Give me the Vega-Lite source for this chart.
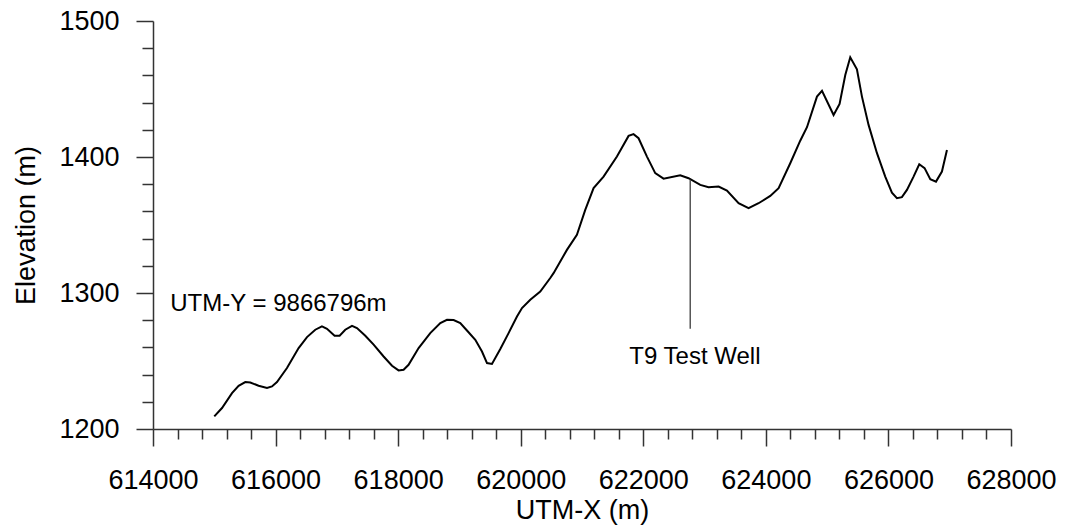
{
  "$schema": "https://vega.github.io/schema/vega-lite/v6.json",
  "width": 858,
  "height": 408,
  "autosize": {"type": "none"},
  "padding": {"left": 153, "top": 21, "right": 57, "bottom": 102},
  "background": "white",
  "config": {
    "view": {"stroke": null},
    "font": "Liberation Sans",
    "axis": {
      "grid": false,
      "domainColor": "#333333",
      "domainWidth": 1.5,
      "tickColor": "#333333",
      "tickWidth": 1.5,
      "labelColor": "black",
      "labelFont": "Liberation Sans",
      "labelFontSize": 27,
      "titleFont": "Liberation Sans",
      "titleFontSize": 27,
      "titleFontWeight": "normal",
      "titleColor": "black"
    }
  },
  "datasets": {
    "profile": [
      {"x": 615000, "elev": 1209.3},
      {"x": 615126, "elev": 1215.4},
      {"x": 615289, "elev": 1226.4},
      {"x": 615397, "elev": 1231.8},
      {"x": 615506, "elev": 1234.5},
      {"x": 615588, "elev": 1234.2},
      {"x": 615723, "elev": 1231.8},
      {"x": 615860, "elev": 1230.1},
      {"x": 615941, "elev": 1231.3},
      {"x": 616023, "elev": 1234.5},
      {"x": 616186, "elev": 1244.8},
      {"x": 616376, "elev": 1259.5},
      {"x": 616513, "elev": 1267.6},
      {"x": 616648, "elev": 1273.0},
      {"x": 616757, "elev": 1275.4},
      {"x": 616839, "elev": 1273.7},
      {"x": 616963, "elev": 1268.6},
      {"x": 617045, "elev": 1268.6},
      {"x": 617137, "elev": 1273.0},
      {"x": 617247, "elev": 1275.9},
      {"x": 617328, "elev": 1274.2},
      {"x": 617464, "elev": 1268.6},
      {"x": 617600, "elev": 1262.0},
      {"x": 617763, "elev": 1253.3},
      {"x": 617900, "elev": 1246.5},
      {"x": 618007, "elev": 1243.1},
      {"x": 618089, "elev": 1243.6},
      {"x": 618170, "elev": 1247.2},
      {"x": 618334, "elev": 1259.5},
      {"x": 618524, "elev": 1270.5},
      {"x": 618688, "elev": 1277.9},
      {"x": 618797, "elev": 1280.3},
      {"x": 618905, "elev": 1280.1},
      {"x": 619014, "elev": 1277.9},
      {"x": 619123, "elev": 1272.4},
      {"x": 619259, "elev": 1265.6},
      {"x": 619368, "elev": 1257.0},
      {"x": 619450, "elev": 1248.5},
      {"x": 619531, "elev": 1247.8},
      {"x": 619667, "elev": 1258.8},
      {"x": 619802, "elev": 1270.5},
      {"x": 619939, "elev": 1282.7},
      {"x": 620021, "elev": 1288.9},
      {"x": 620156, "elev": 1295.0},
      {"x": 620319, "elev": 1301.1},
      {"x": 620482, "elev": 1311.0},
      {"x": 620536, "elev": 1314.6},
      {"x": 620754, "elev": 1331.7},
      {"x": 620917, "elev": 1342.8},
      {"x": 621053, "elev": 1361.1},
      {"x": 621189, "elev": 1377.1},
      {"x": 621352, "elev": 1385.6},
      {"x": 621570, "elev": 1400.3},
      {"x": 621760, "elev": 1415.5},
      {"x": 621841, "elev": 1416.8},
      {"x": 621923, "elev": 1413.8},
      {"x": 622060, "elev": 1400.3},
      {"x": 622195, "elev": 1388.1},
      {"x": 622331, "elev": 1384.1},
      {"x": 622603, "elev": 1386.6},
      {"x": 622739, "elev": 1384.4},
      {"x": 622930, "elev": 1379.5},
      {"x": 623065, "elev": 1377.8},
      {"x": 623229, "elev": 1378.3},
      {"x": 623365, "elev": 1375.3},
      {"x": 623555, "elev": 1366.0},
      {"x": 623718, "elev": 1362.4},
      {"x": 623881, "elev": 1366.0},
      {"x": 624072, "elev": 1371.4},
      {"x": 624208, "elev": 1377.1},
      {"x": 624398, "elev": 1395.4},
      {"x": 624561, "elev": 1412.0},
      {"x": 624671, "elev": 1421.9},
      {"x": 624834, "elev": 1444.4},
      {"x": 624916, "elev": 1448.6},
      {"x": 625105, "elev": 1430.9},
      {"x": 625203, "elev": 1439.0},
      {"x": 625296, "elev": 1460.3},
      {"x": 625377, "elev": 1473.3},
      {"x": 625486, "elev": 1464.5},
      {"x": 625568, "elev": 1444.4},
      {"x": 625676, "elev": 1423.6},
      {"x": 625813, "elev": 1402.8},
      {"x": 625948, "elev": 1385.6},
      {"x": 626057, "elev": 1373.8},
      {"x": 626139, "elev": 1369.7},
      {"x": 626220, "elev": 1370.5},
      {"x": 626302, "elev": 1375.8},
      {"x": 626410, "elev": 1385.6},
      {"x": 626503, "elev": 1394.7},
      {"x": 626590, "elev": 1391.8},
      {"x": 626683, "elev": 1383.7},
      {"x": 626776, "elev": 1381.9},
      {"x": 626873, "elev": 1389.3},
      {"x": 626955, "elev": 1405.2}
    ],
    "well": [
      {"x": 622766, "top": 1383.3, "bottom": 1273.7}
    ],
    "leftLabel": [
      {"x": 614282, "elev": 1287, "text": "UTM-Y = 9866796m"}
    ],
    "wellLabel": [
      {"x": 622843, "elev": 1248, "text": "T9 Test Well"}
    ]
  },
  "layer": [
    {
      "data": {"name": "profile"},
      "mark": {"type": "line", "color": "black", "strokeWidth": 2},
      "encoding": {
        "x": {
          "field": "x", "type": "quantitative",
          "scale": {"domain": [614000, 628000], "nice": false, "zero": false},
          "axis": {
            "orient": "bottom",
            "values": [614000, 616000, 618000, 620000, 622000, 624000, 626000, 628000],
            "format": "d",
            "tickSize": 17,
            "labelPadding": 21,
            "labelFlush": false,
            "labelOverlap": false,
            "title": "UTM-X (m)",
            "titlePadding": 4
          }
        },
        "y": {
          "field": "elev", "type": "quantitative",
          "scale": {"domain": [1200, 1500], "nice": false, "zero": false},
          "axis": {
            "orient": "left",
            "values": [1200, 1300, 1400, 1500],
            "format": "d",
            "tickSize": 17,
            "labelPadding": 17,
            "labelFlush": false,
            "labelOverlap": false,
            "title": "Elevation (m)",
            "titlePadding": 18
          }
        }
      }
    },
    {
      "data": {"name": "well"},
      "mark": {"type": "rule", "color": "#555555", "strokeWidth": 1.5},
      "encoding": {
        "x": {
          "field": "x", "type": "quantitative",
          "axis": {
            "orient": "bottom",
            "values": [614400, 614800, 615200, 615600, 616400, 616800, 617200, 617600, 618400, 618800, 619200, 619600, 620400, 620800, 621200, 621600, 622400, 622800, 623200, 623600, 624400, 624800, 625200, 625600, 626400, 626800, 627200, 627600],
            "tickSize": 10,
            "labels": false,
            "domain": false,
            "title": null
          }
        },
        "y": {
          "field": "top", "type": "quantitative",
          "axis": {
            "orient": "left",
            "values": [1220, 1240, 1260, 1280, 1320, 1340, 1360, 1380, 1420, 1440, 1460, 1480],
            "tickSize": 11,
            "labels": false,
            "domain": false,
            "title": null
          }
        },
        "y2": {"field": "bottom"}
      }
    },
    {
      "data": {"name": "leftLabel"},
      "mark": {"type": "text", "fontSize": 24, "font": "Liberation Sans", "color": "black", "baseline": "alphabetic", "align": "left"},
      "encoding": {
        "x": {"field": "x", "type": "quantitative", "axis": null},
        "y": {"field": "elev", "type": "quantitative", "axis": null},
        "text": {"field": "text"}
      }
    },
    {
      "data": {"name": "wellLabel"},
      "mark": {"type": "text", "fontSize": 24, "font": "Liberation Sans", "color": "black", "baseline": "alphabetic", "align": "center"},
      "encoding": {
        "x": {"field": "x", "type": "quantitative", "axis": null},
        "y": {"field": "elev", "type": "quantitative", "axis": null},
        "text": {"field": "text"}
      }
    }
  ],
  "resolve": {"axis": {"x": "independent", "y": "independent"}}
}
